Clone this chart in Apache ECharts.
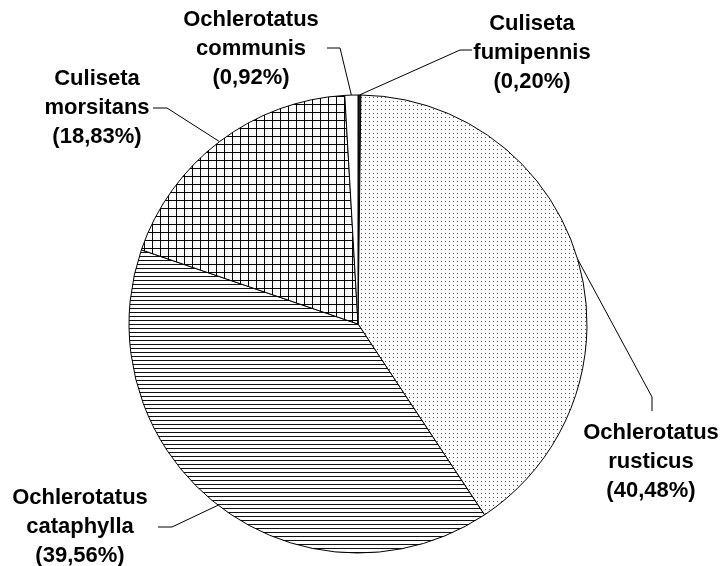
<!DOCTYPE html>
<html>
<head>
<meta charset="utf-8">
<script src="https://cdn.jsdelivr.net/npm/echarts@6/dist/echarts.min.js"></script>
<style>
  html, body { margin: 0; padding: 0; background: #fff; }
  #main { width: 722px; height: 566px; }
</style>
</head>
<body>
<div id="main"></div>
<script>
// species, clockwise from 12 o'clock
const species = ['Culiseta fumipennis', 'Ochlerotatus rusticus', 'Ochlerotatus cataphylla', 'Culiseta morsitans', 'Ochlerotatus communis'];
const percents = [0.20, 40.48, 39.56, 18.83, 0.92];

// label placement: text centre and leader elbow / end
const labelPos = [
  { x: 532, y: 53, elbow: [460, 50], end: [472, 50] },
  { x: 651, y: 462, elbow: [652, 397], end: [652, 411] },
  { x: 80, y: 527, elbow: [172, 527], end: [158, 527] },
  { x: 97, y: 108, elbow: [167, 108], end: [153, 108] },
  { x: 251, y: 49, elbow: [340, 48], end: [327, 48] }
];

function makePattern(w, h, draw) {
  let c = document.createElement('canvas');
  c.width = w;
  c.height = h;
  let ctx = c.getContext('2d');
  ctx.fillStyle = '#fff';
  ctx.fillRect(0, 0, w, h);
  draw(ctx);
  return { image: c, repeat: 'repeat' };
}

const dots = makePattern(4, 4, ctx => {
  ctx.fillStyle = '#555';
  ctx.fillRect(1, 1, 1, 1);
});
const hlines = makePattern(4, 4, ctx => {
  ctx.fillStyle = '#111';
  ctx.fillRect(0, 0, 4, 1);
});
const grid = makePattern(8, 8, ctx => {
  ctx.fillStyle = '#000';
  ctx.fillRect(0, 0, 8, 1);
  ctx.fillRect(0, 0, 1, 8);
});

const fills = ['#3a0c3a', dots, hlines, grid, '#fff'];

let chartDom = document.getElementById('main');
let myChart = echarts.init(chartDom);
let option;

option = {
  backgroundColor: '#fff',
  animation: false,
  series: [
    {
      type: 'pie',
      center: [358, 324],
      radius: 229,
      startAngle: 90,
      clockwise: true,
      avoidLabelOverlap: false,
      minAngle: 0,
      itemStyle: {
        borderColor: '#000',
        borderWidth: 1
      },
      label: {
        show: true,
        position: 'outside',
        color: '#000',
        fontFamily: 'Liberation Sans, Arial, sans-serif',
        fontWeight: 'bold',
        fontSize: 22,
        lineHeight: 29,
        align: 'center',
        formatter: p => p.name.replace(' ', '\n') + '\n(' + p.value.toFixed(2).replace('.', ',') + '%)'
      },
      labelLine: {
        show: true,
        lineStyle: { color: '#000', width: 1 }
      },
      labelLayout: params => {
        let lp = labelPos[params.dataIndex];
        let start = params.labelLinePoints ? params.labelLinePoints[0] : lp.elbow;
        return {
          x: lp.x,
          y: lp.y,
          align: 'center',
          verticalAlign: 'middle',
          labelLinePoints: [start, lp.elbow, lp.end]
        };
      },
      emphasis: { disabled: true },
      data: species.map((name, i) => ({
        name: name,
        value: percents[i],
        itemStyle: { color: fills[i] }
      }))
    }
  ]
};

option && myChart.setOption(option);
</script>
</body>
</html>
